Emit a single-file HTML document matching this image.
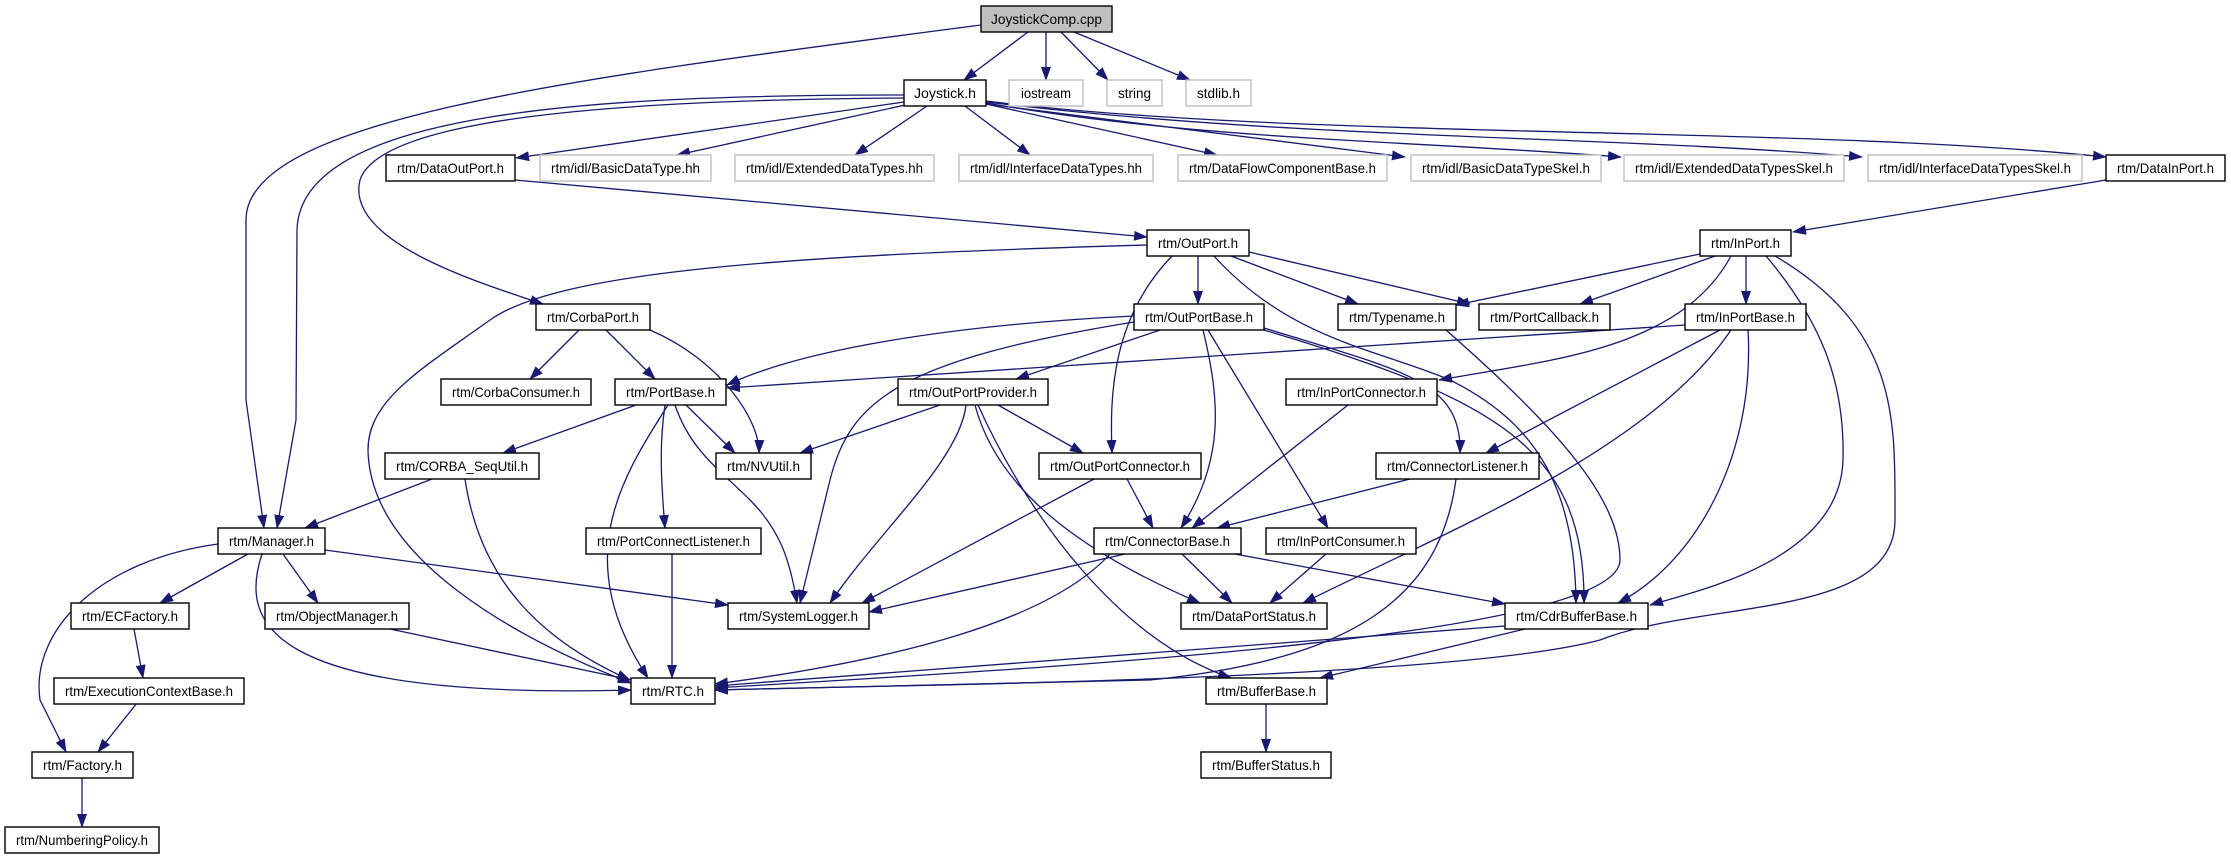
<!DOCTYPE html>
<html><head><meta charset="utf-8"><style>
html,body{margin:0;padding:0;background:#fff}
svg{display:block}
text{font-family:"Liberation Sans",sans-serif;font-size:14px;fill:#000}
.e{fill:none;stroke:#191970;stroke-width:1.3}
.b{fill:#fff;stroke:#000;stroke-width:1.4}
.g{fill:#fff;stroke:#bfbfbf;stroke-width:1.4}
</style></head><body>
<svg width="2231" height="859" viewBox="0 0 2231 859" xmlns="http://www.w3.org/2000/svg">
<defs>
<marker id="a" markerUnits="userSpaceOnUse" markerWidth="14" markerHeight="10" refX="13" refY="5" orient="auto">
<polygon points="0,0 14,5 0,10" fill="#191970"/>
</marker>
</defs>
<g class="e" marker-end="url(#a)">
<!-- JoystickComp -->
<path d="M1028 32 L964 80"/>
<path d="M1046 32 L1046 80"/>
<path d="M1061 32 L1108 80"/>
<path d="M1074 32 L1190 80"/>
<path d="M981 25 C560 80,246 120,246 220 L246 400 L264 528"/>
<!-- Joystick.h -->
<path d="M904 95 C600 95,300 110,297 230 L296 420 L277 528"/>
<path d="M904 98 C600 100,380 120,360 180 C345 240,470 280,543 304"/>
<path d="M904 102 L516 158"/>
<path d="M910 104 L677 155"/>
<path d="M927 106 L855 155"/>
<path d="M965 106 L1030 155"/>
<path d="M986 104 L1217 155"/>
<path d="M986 104 L1405 157"/>
<path d="M986 103 C1200 140,1400 140,1621 157"/>
<path d="M986 102 C1300 140,1600 135,1862 157"/>
<path d="M986 101 C1300 140,1800 125,2106 157"/>
<!-- DataOutPort / DataInPort -->
<path d="M515 180 L1147 237"/>
<path d="M2106 180 L1793 232"/>
<!-- OutPort -->
<path d="M1147 245 C800 255,560 270,490 320 C420 370,368 400,368 450 C370 560,520 640,631 683"/>
<path d="M1198 256 L1198 304"/>
<path d="M1231 256 L1358 304"/>
<path d="M1249 252 L1470 304"/>
<path d="M1172 256 C1110 320,1110 400,1112 453"/>
<path d="M1214 256 C1290 340,1380 350,1450 380 C1530 420,1575 480,1576 603"/>
<!-- InPort -->
<path d="M1700 254 L1456 305"/>
<path d="M1715 256 L1580 304"/>
<path d="M1746 256 L1746 304"/>
<path d="M1731 256 C1680 350,1550 360,1439 380"/>
<path d="M1766 256 C1820 320,1845 380,1843 460 C1840 560,1700 590,1650 605"/>
<path d="M1775 256 C1900 330,1895 420,1895 520 C1895 620,1700 600,1600 640 C1450 680,900 685,715 690"/>
<!-- OutPortBase -->
<path d="M1134 316 C950 325,800 350,727 385"/>
<path d="M1160 330 L1016 379"/>
<path d="M1134 322 C900 360,850 400,830 480 L800 603"/>
<path d="M1203 330 C1220 400,1225 460,1181 528"/>
<path d="M1208 330 L1328 528"/>
<path d="M1264 328 C1400 370,1462 380,1460 453"/>
<path d="M1264 330 C1500 400,1585 450,1584 603"/>
<!-- InPortBase -->
<path d="M1685 325 L727 388"/>
<path d="M1720 330 L1486 453"/>
<path d="M1731 330 C1650 450,1450 530,1303 603"/>
<path d="M1748 330 C1755 450,1700 560,1618 603"/>
<!-- Typename -->
<path d="M1446 330 C1560 430,1620 500,1620 560 C1620 640,1000 670,715 688"/>
<!-- CorbaPort -->
<path d="M579 330 L530 379"/>
<path d="M606 330 L655 379"/>
<path d="M650 330 C720 360,760 420,759 453"/>
<!-- PortBase -->
<path d="M636 405 L503 453"/>
<path d="M686 405 L735 453"/>
<path d="M675 405 C690 450,720 470,750 500 C780 530,790 560,797 603"/>
<path d="M668 405 C620 480,570 560,648 678"/>
<path d="M665 405 C660 440,660 470,665 528"/>
<!-- OutPortProvider -->
<path d="M940 405 L800 453"/>
<path d="M998 405 L1083 453"/>
<path d="M966 405 C960 460,880 530,830 603"/>
<path d="M975 405 C1000 500,1100 560,1200 603"/>
<path d="M978 405 C1030 520,1120 640,1231 678"/>
<!-- InPortConnector -->
<path d="M1348 405 L1192 528"/>
<!-- CORBA_SeqUtil -->
<path d="M432 479 L305 528"/>
<path d="M465 479 C480 580,540 640,630 680"/>
<!-- OutPortConnector -->
<path d="M1127 479 L1153 528"/>
<path d="M1094 479 L862 603"/>
<!-- ConnectorListener -->
<path d="M1410 479 L1217 528"/>
<path d="M1456 479 C1440 600,1350 660,1150 680 L715 690"/>
<!-- Manager -->
<path d="M248 554 L160 603"/>
<path d="M283 554 L318 603"/>
<path d="M325 550 L728 605"/>
<path d="M262 554 C240 620,260 700,631 690"/>
<path d="M218 544 C100 560,30 630,40 700 L66 752"/>
<!-- misc -->
<path d="M672 554 L672 678"/>
<path d="M1125 554 L869 612"/>
<path d="M1182 554 L1232 603"/>
<path d="M1235 554 L1505 604"/>
<path d="M1110 554 C1050 620,900 660,715 684"/>
<path d="M1326 554 L1270 603"/>
<path d="M134 629 L143 678"/>
<path d="M390 629 L631 680"/>
<path d="M1505 626 L715 686"/>
<path d="M1525 629 L1320 678"/>
<path d="M137 703 L98 752"/>
<path d="M82 778 L82 827"/>
<path d="M1266 703 L1266 752"/>
</g>
<g>
<rect x="981" y="6" width="131" height="26" fill="#bfbfbf" stroke="#000" stroke-width="1.4"/>
<text x="1046.5" y="24" text-anchor="middle" textLength="111" lengthAdjust="spacingAndGlyphs">JoystickComp.cpp</text>

<rect class="b" x="904" y="80" width="82" height="26"/><text x="945" y="98" text-anchor="middle" textLength="62" lengthAdjust="spacingAndGlyphs">Joystick.h</text>
<rect class="g" x="1009" y="80" width="74" height="26"/><text x="1046" y="98" text-anchor="middle" textLength="50" lengthAdjust="spacingAndGlyphs">iostream</text>
<rect class="g" x="1107" y="80" width="55" height="26"/><text x="1134.5" y="98" text-anchor="middle" textLength="33" lengthAdjust="spacingAndGlyphs">string</text>
<rect class="g" x="1186" y="80" width="65" height="26"/><text x="1218.5" y="98" text-anchor="middle" textLength="43" lengthAdjust="spacingAndGlyphs">stdlib.h</text>

<rect class="b" x="386" y="155" width="129" height="26"/><text x="450.5" y="173" text-anchor="middle" textLength="107" lengthAdjust="spacingAndGlyphs">rtm/DataOutPort.h</text>
<rect class="g" x="540" y="155" width="171" height="26"/><text x="625.5" y="173" text-anchor="middle" textLength="149" lengthAdjust="spacingAndGlyphs">rtm/idl/BasicDataType.hh</text>
<rect class="g" x="735" y="155" width="199" height="26"/><text x="834.5" y="173" text-anchor="middle" textLength="177" lengthAdjust="spacingAndGlyphs">rtm/idl/ExtendedDataTypes.hh</text>
<rect class="g" x="959" y="155" width="194" height="26"/><text x="1056" y="173" text-anchor="middle" textLength="172" lengthAdjust="spacingAndGlyphs">rtm/idl/InterfaceDataTypes.hh</text>
<rect class="g" x="1178" y="155" width="209" height="26"/><text x="1282.5" y="173" text-anchor="middle" textLength="187" lengthAdjust="spacingAndGlyphs">rtm/DataFlowComponentBase.h</text>
<rect class="g" x="1411" y="155" width="190" height="26"/><text x="1506" y="173" text-anchor="middle" textLength="168" lengthAdjust="spacingAndGlyphs">rtm/idl/BasicDataTypeSkel.h</text>
<rect class="g" x="1624" y="155" width="220" height="26"/><text x="1734" y="173" text-anchor="middle" textLength="198" lengthAdjust="spacingAndGlyphs">rtm/idl/ExtendedDataTypesSkel.h</text>
<rect class="g" x="1868" y="155" width="214" height="26"/><text x="1975" y="173" text-anchor="middle" textLength="192" lengthAdjust="spacingAndGlyphs">rtm/idl/InterfaceDataTypesSkel.h</text>
<rect class="b" x="2106" y="155" width="119" height="26"/><text x="2165.5" y="173" text-anchor="middle" textLength="97" lengthAdjust="spacingAndGlyphs">rtm/DataInPort.h</text>

<rect class="b" x="1147" y="230" width="102" height="26"/><text x="1198" y="248" text-anchor="middle" textLength="80" lengthAdjust="spacingAndGlyphs">rtm/OutPort.h</text>
<rect class="b" x="1700" y="230" width="91" height="26"/><text x="1745.5" y="248" text-anchor="middle" textLength="69" lengthAdjust="spacingAndGlyphs">rtm/InPort.h</text>

<rect class="b" x="536" y="304" width="114" height="26"/><text x="593" y="322" text-anchor="middle" textLength="92" lengthAdjust="spacingAndGlyphs">rtm/CorbaPort.h</text>
<rect class="b" x="1134" y="304" width="130" height="26"/><text x="1199" y="322" text-anchor="middle" textLength="108" lengthAdjust="spacingAndGlyphs">rtm/OutPortBase.h</text>
<rect class="b" x="1338" y="304" width="118" height="26"/><text x="1397" y="322" text-anchor="middle" textLength="96" lengthAdjust="spacingAndGlyphs">rtm/Typename.h</text>
<rect class="b" x="1479" y="304" width="131" height="26"/><text x="1544.5" y="322" text-anchor="middle" textLength="109" lengthAdjust="spacingAndGlyphs">rtm/PortCallback.h</text>
<rect class="b" x="1685" y="304" width="121" height="26"/><text x="1745.5" y="322" text-anchor="middle" textLength="99" lengthAdjust="spacingAndGlyphs">rtm/InPortBase.h</text>

<rect class="b" x="441" y="379" width="150" height="26"/><text x="516" y="397" text-anchor="middle" textLength="128" lengthAdjust="spacingAndGlyphs">rtm/CorbaConsumer.h</text>
<rect class="b" x="615" y="379" width="111" height="26"/><text x="670.5" y="397" text-anchor="middle" textLength="89" lengthAdjust="spacingAndGlyphs">rtm/PortBase.h</text>
<rect class="b" x="898" y="379" width="150" height="26"/><text x="973" y="397" text-anchor="middle" textLength="128" lengthAdjust="spacingAndGlyphs">rtm/OutPortProvider.h</text>
<rect class="b" x="1286" y="379" width="151" height="26"/><text x="1361.5" y="397" text-anchor="middle" textLength="129" lengthAdjust="spacingAndGlyphs">rtm/InPortConnector.h</text>

<rect class="b" x="385" y="453" width="154" height="26"/><text x="462" y="471" text-anchor="middle" textLength="132" lengthAdjust="spacingAndGlyphs">rtm/CORBA_SeqUtil.h</text>
<rect class="b" x="716" y="453" width="95" height="26"/><text x="763.5" y="471" text-anchor="middle" textLength="73" lengthAdjust="spacingAndGlyphs">rtm/NVUtil.h</text>
<rect class="b" x="1039" y="453" width="162" height="26"/><text x="1120" y="471" text-anchor="middle" textLength="140" lengthAdjust="spacingAndGlyphs">rtm/OutPortConnector.h</text>
<rect class="b" x="1376" y="453" width="163" height="26"/><text x="1457.5" y="471" text-anchor="middle" textLength="141" lengthAdjust="spacingAndGlyphs">rtm/ConnectorListener.h</text>

<rect class="b" x="218" y="528" width="107" height="26"/><text x="271.5" y="546" text-anchor="middle" textLength="85" lengthAdjust="spacingAndGlyphs">rtm/Manager.h</text>
<rect class="b" x="586" y="528" width="175" height="26"/><text x="673.5" y="546" text-anchor="middle" textLength="153" lengthAdjust="spacingAndGlyphs">rtm/PortConnectListener.h</text>
<rect class="b" x="1094" y="528" width="147" height="26"/><text x="1167.5" y="546" text-anchor="middle" textLength="125" lengthAdjust="spacingAndGlyphs">rtm/ConnectorBase.h</text>
<rect class="b" x="1266" y="528" width="150" height="26"/><text x="1341" y="546" text-anchor="middle" textLength="128" lengthAdjust="spacingAndGlyphs">rtm/InPortConsumer.h</text>

<rect class="b" x="71" y="603" width="118" height="26"/><text x="130" y="621" text-anchor="middle" textLength="96" lengthAdjust="spacingAndGlyphs">rtm/ECFactory.h</text>
<rect class="b" x="265" y="603" width="144" height="26"/><text x="337" y="621" text-anchor="middle" textLength="122" lengthAdjust="spacingAndGlyphs">rtm/ObjectManager.h</text>
<rect class="b" x="728" y="603" width="141" height="26"/><text x="798.5" y="621" text-anchor="middle" textLength="119" lengthAdjust="spacingAndGlyphs">rtm/SystemLogger.h</text>
<rect class="b" x="1181" y="603" width="146" height="26"/><text x="1254" y="621" text-anchor="middle" textLength="124" lengthAdjust="spacingAndGlyphs">rtm/DataPortStatus.h</text>
<rect class="b" x="1505" y="603" width="143" height="26"/><text x="1576.5" y="621" text-anchor="middle" textLength="121" lengthAdjust="spacingAndGlyphs">rtm/CdrBufferBase.h</text>

<rect class="b" x="54" y="678" width="190" height="26"/><text x="149" y="696" text-anchor="middle" textLength="168" lengthAdjust="spacingAndGlyphs">rtm/ExecutionContextBase.h</text>
<rect class="b" x="631" y="678" width="84" height="26"/><text x="673" y="696" text-anchor="middle" textLength="62" lengthAdjust="spacingAndGlyphs">rtm/RTC.h</text>
<rect class="b" x="1206" y="678" width="121" height="26"/><text x="1266.5" y="696" text-anchor="middle" textLength="99" lengthAdjust="spacingAndGlyphs">rtm/BufferBase.h</text>

<rect class="b" x="32" y="752" width="101" height="26"/><text x="82.5" y="770" text-anchor="middle" textLength="79" lengthAdjust="spacingAndGlyphs">rtm/Factory.h</text>
<rect class="b" x="1201" y="752" width="130" height="26"/><text x="1266" y="770" text-anchor="middle" textLength="108" lengthAdjust="spacingAndGlyphs">rtm/BufferStatus.h</text>

<rect class="b" x="5" y="827" width="154" height="26"/><text x="82" y="845" text-anchor="middle" textLength="132" lengthAdjust="spacingAndGlyphs">rtm/NumberingPolicy.h</text>
</g>
</svg>
</body></html>
